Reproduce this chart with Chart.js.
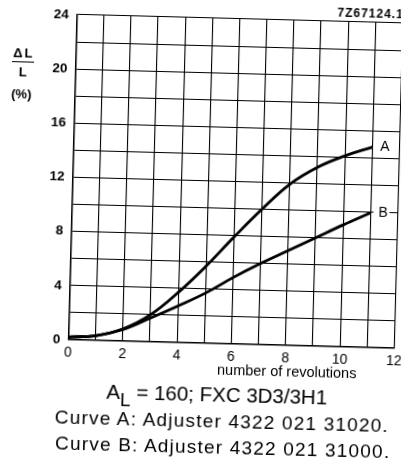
<!DOCTYPE html>
<html>
<head>
<meta charset="utf-8">
<script src="https://cdn.jsdelivr.net/npm/chart.js@4"></script>
<style>
  html, body { margin: 0; background: #fff; overflow: hidden; }
  #wrap { position: relative; width: 401px; height: 459px; overflow: hidden; }
  /* the scanned sheet sits slightly tilted */
  #sheet { position: absolute; left: 0; top: 0; width: 420px; height: 470px;
           transform-origin: 235.5px 181.5px; transform: rotate(1.5deg);
           font-family: "Liberation Sans", Arial, sans-serif; color: #000; }
  canvas { position: absolute; left: 0; top: 0; }
  .t { position: absolute; white-space: nowrap; }
</style>
</head>
<body>
<div id="wrap">
 <div id="sheet">
  <canvas id="chart" width="420" height="459"></canvas>
  <div class="t" style="left:333px;top:3px;font-size:12px;font-weight:bold;letter-spacing:1px;">7Z67124.1</div>
  <div class="t" style="left:10px;top:51px;font-size:13px;font-weight:bold;letter-spacing:2px;">&Delta;L</div>
  <div class="t" style="left:9px;top:67px;width:22px;border-top:1.5px solid #000;"></div>
  <div class="t" style="left:16px;top:70px;font-size:13px;font-weight:bold;">L</div>
  <div class="t" style="left:9px;top:92px;font-size:13px;font-weight:bold;">(%)</div>
  <div class="t" style="left:222px;top:362px;font-size:14.5px;">number of revolutions</div>
  <div class="t" style="left:112px;top:383px;font-size:20.5px;">A<span style="font-size:19px;position:relative;top:7px;">L</span> = 160; FXC 3D3/3H1</div>
  <div class="t" style="left:61px;top:411px;font-size:19px;letter-spacing:1.2px;">Curve A: Adjuster 4322 021 31020.</div>
  <div class="t" style="left:62px;top:437px;font-size:19px;letter-spacing:1.2px;">Curve B: Adjuster 4322 021 31000.</div>
 </div>
</div>
<script>
const revs = [0, 1, 2, 3, 4, 5, 6, 7, 8, 9, 10, 11];
const curveA = [0.2, 0.35, 0.9, 2.0, 3.7, 5.7, 7.9, 10.0, 11.9, 13.2, 14.1, 14.8];
const curveB = [0.2, 0.35, 0.85, 1.75, 2.7, 3.7, 4.9, 6.0, 7.0, 8.0, 9.0, 9.95];
const curveNames = ['A', 'B'];

const toPoints = (xs, ys) => xs.map((x, i) => ({ x: x, y: ys[i] }));

// letters A and B next to the end of each curve, on a white patch over the grid
const endLabels = {
  id: 'endLabels',
  afterDatasetsDraw(chart) {
    const ctx = chart.ctx;
    ctx.save();
    ctx.font = '14px "Liberation Sans", Arial, sans-serif';
    ctx.textBaseline = 'middle';
    chart.data.datasets.forEach((ds, i) => {
      const meta = chart.getDatasetMeta(i);
      const last = meta.data[meta.data.length - 1];
      ctx.fillStyle = '#fff';
      ctx.fillRect(last.x + 3, last.y - 7, 16, 14);
      ctx.fillStyle = '#000';
      ctx.fillText(curveNames[i], last.x + 8, last.y);
    });
    ctx.restore();
  }
};

const ctx = document.getElementById('chart').getContext('2d');

new Chart(ctx, {
  type: 'line',
  data: {
    datasets: [
      { label: 'Curve A', data: toPoints(revs, curveA) },
      { label: 'Curve B', data: toPoints(revs, curveB) },
    ],
  },
  options: {
    responsive: false,
    animation: false,
    layout: { padding: { top: 19, right: 21.5, bottom: 80, left: 0 } },
    elements: {
      line: { borderColor: '#000', borderWidth: 2.8, tension: 0.4, fill: false },
      point: { radius: 0 },
    },
    plugins: { legend: { display: false }, tooltip: { enabled: false } },
    scales: {
      x: {
        type: 'linear',
        min: 0,
        max: 12,
        afterFit: (s) => { s.height = 35; },
        ticks: {
          stepSize: 1,
          color: '#000',
          font: { size: 14, family: '"Liberation Sans", Arial, sans-serif' },
          padding: 5,
          maxRotation: 0,
          autoSkip: false,
          callback: (v) => (v % 2 === 0 ? String(v) : ''),
        },
        grid: { color: '#000', lineWidth: 1.1, drawTicks: false },
        border: { color: '#000', width: 1.5 },
      },
      y: {
        min: 0,
        max: 24,
        afterFit: (s) => { s.width = 72.5; },
        ticks: {
          stepSize: 2,
          color: '#000',
          font: { size: 13.5, weight: 'bold', family: '"Liberation Sans", Arial, sans-serif' },
          padding: 8,
          autoSkip: false,
          callback: (v) => (v % 4 === 0 ? String(v) : ''),
        },
        grid: { color: '#000', lineWidth: 1.1, drawTicks: false },
        border: { color: '#000', width: 1.5 },
      },
    },
  },
  plugins: [endLabels],
});
</script>
</body>
</html>
